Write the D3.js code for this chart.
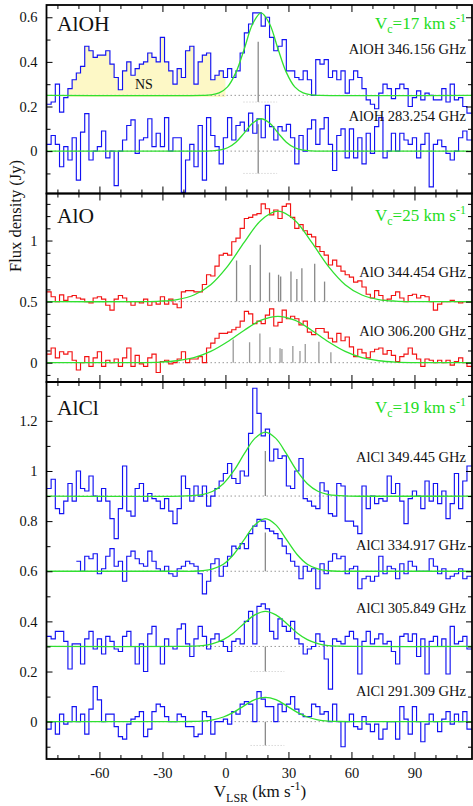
<!DOCTYPE html>
<html><head><meta charset="utf-8">
<script src="https://cdn.jsdelivr.net/npm/d3@7"></script>
<style>body{margin:0;background:#fff}svg{display:block}</style>
</head><body><svg id="c" width="473" height="806"></svg>
<script>
// ---------- data ----------
const vStart = -85, chanWidth = 2;   // channel grid (km/s)

const alOH346 = [0.21,0.22,0.30,0.175,0.24,0.28,0.32,0.35,0.38,0.47,
 0.45,0.42,0.43,0.43,0.45,0.39,0.33,0.275,0.36,0.40,
 0.34,0.37,0.39,0.40,0.44,0.42,0.40,0.51,0.40,0.36,
 0.30,0.37,0.33,0.45,0.47,0.30,0.40,0.43,0.44,0.32,
 0.34,0.36,0.33,0.37,0.33,0.36,0.44,0.53,0.57,0.62,
 0.62,0.56,0.60,0.51,0.45,0.47,0.50,0.36,0.36,0.33,
 0.32,0.36,0.32,0.25,0.41,0.39,0.41,0.33,0.36,0.32,
 0.36,0.26,0.32,0.36,0.33,0.28,0.23,0.21,0.19,0.26,
 0.30,0.28,0.235,0.28,0.30,0.28,0.20,0.24,0.27,0.23,
 0.26,0.25,0.23,0.23,0.28,0.22,0.30,0.23,0.24,0.20,0.17];

const alOH283 = [0.03,0.07,0.03,-0.07,0.02,-0.04,0.06,-0.13,0.085,0.168,
 -0.04,0.0,0.02,0.09,-0.03,0.0,-0.155,0.0,0.05,0.115,
 0.14,-0.01,0.05,0.06,0.145,0.02,0.08,0.02,0.15,0.0,
 0.06,0.06,-0.185,-0.04,0.03,-0.07,0.115,-0.13,0.15,0.07,
 0.02,-0.057,0.06,0.15,0.05,0.115,0.13,0.09,0.17,0.08,
 0.145,0.06,0.205,0.11,0.05,0.11,0.09,0.12,0.06,-0.057,
 0.07,0.0,0.10,0.14,0.03,0.10,0.15,0.03,-0.087,0.07,
 0.10,-0.03,0.10,-0.03,0.06,-0.057,0.08,-0.01,0.11,0.15,
 -0.03,0.0,0.08,0.0,0.08,0.05,0.03,0.06,-0.03,0.03,
 0.08,-0.16,0.03,0.05,0.02,-0.01,-0.04,0.0,0.06,0.09,0.05];

const alO344 = [0.58,0.54,0.50,0.555,0.51,0.54,0.55,0.53,0.52,0.50,
 0.49,0.53,0.54,0.52,0.47,0.43,0.52,0.55,0.53,0.50,
 0.47,0.50,0.49,0.52,0.47,0.50,0.48,0.54,0.48,0.52,
 0.48,0.45,0.58,0.59,0.59,0.58,0.58,0.64,0.72,0.71,
 0.79,0.88,0.895,0.88,0.99,1.02,1.10,1.18,1.19,1.21,
 1.22,1.30,1.26,1.21,1.25,1.18,1.28,1.30,1.19,1.10,
 1.13,1.08,1.05,1.03,0.95,0.91,0.88,0.80,0.84,0.79,
 0.75,0.72,0.70,0.66,0.67,0.62,0.56,0.53,0.59,0.55,
 0.51,0.52,0.55,0.58,0.53,0.50,0.55,0.56,0.53,0.55,
 0.54,0.50,0.43,0.48,0.50,0.50,0.51,0.50,0.49,0.50,0.50];

const alO306 = [0.07,0.12,0.04,0.09,0.07,0.09,0.02,-0.06,0.0,0.05,
 -0.03,0.04,0.09,-0.03,0.02,0.0,0.03,-0.03,0.04,0.12,
 -0.03,0.06,-0.01,-0.03,0.04,0.07,-0.08,0.01,0.02,-0.01,
 0.0,0.03,0.09,0.0,0.03,0.03,0.05,0.0,0.12,0.16,
 0.20,0.24,0.24,0.25,0.27,0.29,0.34,0.42,0.40,0.32,
 0.34,0.32,0.39,0.44,0.30,0.33,0.43,0.36,0.38,0.36,
 0.31,0.34,0.25,0.23,0.28,0.28,0.25,0.20,0.17,0.24,
 0.18,0.21,0.13,0.05,0.11,0.08,0.04,0.09,0.11,0.12,
 0.07,0.10,0.06,0.01,0.05,0.07,0.12,0.07,0.03,-0.03,
 0.03,0.02,0.0,0.02,0.0,0.02,-0.02,0.01,0.04,0.0,-0.03];

const alCl349 = [0.93,0.967,0.85,0.83,0.88,0.95,0.88,1.0,0.93,0.92,
 0.98,0.90,0.88,0.93,0.88,0.81,0.73,0.85,1.02,0.84,
 0.82,0.93,0.95,0.88,0.91,0.89,0.88,0.85,0.89,0.84,
 0.79,0.85,0.98,0.93,0.88,0.94,0.90,0.94,0.86,0.90,
 0.93,0.96,0.99,1.03,0.97,0.95,1.0,0.98,1.15,1.33,
 1.23,1.14,1.167,1.04,1.087,1.05,1.06,0.94,0.93,1.0,
 1.05,0.89,0.88,0.86,0.85,0.953,0.92,0.83,0.82,0.95,
 0.94,0.80,0.80,0.78,0.75,0.94,0.85,0.90,0.87,0.89,
 0.88,0.98,0.91,0.95,0.88,0.79,0.89,0.92,0.90,0.85,
 0.96,0.88,0.95,0.87,0.92,0.81,0.87,0.99,0.85,0.96,1.02];

const alCl334 = [null,null,null,null,null,null,null,0.64,0.60,0.66,
 0.65,0.67,0.59,0.61,0.66,0.69,0.62,0.64,0.56,0.66,
 0.68,0.65,0.63,0.62,0.68,0.64,0.61,0.60,0.62,0.59,
 0.58,0.61,0.62,0.64,0.63,0.62,0.59,0.51,0.56,0.63,
 0.65,0.58,0.62,0.66,0.70,0.69,0.71,0.69,0.75,0.78,
 0.807,0.80,0.77,0.76,0.75,0.73,0.70,0.67,0.64,0.62,
 0.57,0.62,0.60,0.61,0.53,0.63,0.59,0.64,0.67,0.65,
 0.66,0.59,0.61,0.62,0.53,0.57,0.58,0.56,0.58,0.66,
 0.59,0.62,0.61,0.57,0.63,0.59,0.64,0.62,0.60,0.60,
 0.60,0.65,0.62,0.59,0.61,0.57,0.58,0.59,0.61,0.57,0.58];

const alCl305 = [0.34,0.33,0.36,0.36,0.32,0.21,0.31,0.31,0.23,0.33,
 0.36,0.29,0.33,0.27,0.34,0.32,0.29,0.28,0.34,0.36,
 0.30,0.23,0.31,0.20,0.35,0.38,0.30,0.23,0.33,0.30,
 0.29,0.37,0.39,0.31,0.26,0.33,0.38,0.34,0.29,0.33,
 0.35,0.32,0.30,0.28,0.32,0.33,0.31,0.40,0.44,0.31,
 0.46,0.47,0.45,0.36,0.33,0.41,0.38,0.36,0.40,0.33,
 0.31,0.27,0.29,0.30,0.35,0.32,0.25,0.13,0.33,0.32,
 0.31,0.34,0.36,0.33,0.19,0.32,0.36,0.31,0.33,0.35,
 0.31,0.32,0.28,0.23,0.34,0.35,0.32,0.35,0.26,0.33,
 0.19,0.32,0.34,0.30,0.33,0.19,0.38,0.31,0.32,0.34,0.29];

const alCl291 = [-0.03,0.0,-0.05,0.03,-0.01,0.0,0.06,0.0,0.03,-0.05,
 0.05,0.14,0.087,0.0,0.03,0.03,-0.02,-0.06,-0.07,-0.01,
 0.01,0.02,0.04,-0.06,-0.03,0.04,0.07,0.06,0.02,0.0,
 0.0,0.03,0.02,-0.02,-0.02,-0.06,-0.05,0.04,0.02,-0.05,
 0.0,0.0,0.01,-0.01,0.04,0.03,0.07,0.08,0.07,0.0,
 0.12,0.09,0.06,0.06,0.0,0.07,0.04,0.07,0.10,0.05,
 0.03,0.02,0.02,0.07,0.06,0.03,0.04,0.0,0.07,0.0,
 -0.1,0.0,0.03,-0.02,-0.03,0.02,-0.01,-0.04,-0.01,-0.07,
 -0.03,0.0,0.0,-0.07,0.06,0.01,-0.05,0.06,0.0,-0.08,
 -0.01,0.03,0.0,-0.04,0.01,0.04,-0.01,0.03,0.0,0.04,-0.03];

// Gaussian fit curves: [v, flux]
const fitAlOH346 = [[-85.2,0.25],[-11,0.25],[-7,0.252],[-3,0.261],[1,0.288],[5,0.353],[9,0.459],[13,0.571],[17,0.62],[21,0.571],[25,0.459],[29,0.353],[33,0.288],[37,0.261],[41,0.252],[45,0.25],[117.4,0.25]];
const fitAlOH283 = [[-85.2,0],[-11,0],[-7,0.001],[-3,0.004],[1,0.015],[5,0.040],[9,0.082],[13,0.126],[17,0.145],[21,0.126],[25,0.082],[29,0.040],[33,0.015],[37,0.004],[41,0.001],[45,0],[117.4,0]];
const fitAlO344 = [[-85.2,0.5],[-39,0.5],[-31,0.504],[-23,0.517],[-15,0.554],[-7,0.639],[1,0.789],[9,0.987],[17,1.167],[25,1.24],[33,1.167],[41,0.987],[49,0.789],[57,0.639],[65,0.554],[73,0.517],[81,0.504],[89,0.5],[117.4,0.5]];
const fitAlO306 = [[-85.2,0],[-47,0],[-39,0.001],[-31,0.005],[-23,0.016],[-15,0.041],[-7,0.092],[1,0.171],[9,0.266],[17,0.348],[25,0.38],[33,0.348],[41,0.266],[49,0.171],[57,0.092],[65,0.041],[73,0.016],[81,0.005],[89,0.001],[97,0],[117.4,0]];
const fitAlCl349 = [[-85.2,0.9],[-21,0.9],[-16,0.902],[-11,0.906],[-6,0.919],[-1,0.949],[4,1.001],[9,1.069],[14,1.130],[19,1.155],[24,1.130],[29,1.069],[34,1.001],[39,0.949],[44,0.919],[49,0.906],[54,0.902],[59,0.9],[117.4,0.9]];
const fitAlCl334 = [[-85.2,0.6],[-21,0.6],[-16,0.600],[-11,0.602],[-6,0.609],[-1,0.628],[4,0.668],[9,0.727],[14,0.785],[19,0.81],[24,0.785],[29,0.727],[34,0.668],[39,0.628],[44,0.609],[49,0.602],[54,0.6],[59,0.6],[117.4,0.6]];
const fitAlCl305 = [[-85.2,0.3],[-21,0.3],[-16,0.301],[-11,0.303],[-6,0.311],[-1,0.327],[4,0.355],[9,0.393],[14,0.426],[19,0.44],[24,0.426],[29,0.393],[34,0.355],[39,0.327],[44,0.311],[49,0.303],[54,0.301],[59,0.3],[117.4,0.3]];
const fitAlCl291 = [[-85.2,0],[-21,0],[-16,0.0006],[-11,0.0024],[-6,0.0073],[-1,0.0185],[4,0.038],[9,0.064],[14,0.0875],[19,0.097],[24,0.0875],[29,0.064],[34,0.038],[39,0.0185],[44,0.0073],[49,0.0024],[54,0.0006],[59,0],[117.4,0]];

// hyperfine / line-position sticks
const hfsAlO344V = [5.3,11.8,16.6,21,25.3,26.3,31.2,34,36.4,42.5,47.2];
const hfsAlO344H = [0.336,0.30,0.465,0.238,0.22,0.205,0.246,0.186,0.274,0.309,0.164];
const hfsAlO306V = [3.7,11.5,16.4,21.2,26,26.9,32.1,35.5,38,44.5,50.2];
const hfsAlO306H = [0.19,0.167,0.24,0.126,0.118,0.112,0.137,0.096,0.153,0.172,0.085];
const stickAlOH346 = [15.6,0.22,0.49];
const stickAlOH283 = [15.6,-0.10,0.12];
const stickAlCl349 = [19,0.9,1.08];
const stickAlCl334 = [19,0.6,0.755];
const stickAlCl305 = [19,0.2,0.3];
const stickAlCl291 = [19,-0.095,0.0];

const nsRange = [-75, 0];
const xMajor = [-60,-30,0,30,60,90];
const xMajorLabels = ["-60","-30","0","30","60","90"];
const xMinor = [-80,-70,-50,-40,-20,-10,10,20,40,50,70,80,100,110];
const yTopMajor = [0,0.2,0.4,0.6], yTopLabels = ["0","0.2","0.4","0.6"], yTopMinor = [-0.1,0.1,0.3,0.5];
const yMidMajor = [0,0.5,1], yMidLabels = ["0","0.5","1"], yMidMinor = [-0.1,0.1,0.2,0.3,0.4,0.6,0.7,0.8,0.9,1.1,1.2,1.3];
const yBotMajor = [0,0.2,0.4,0.6,0.8,1,1.2], yBotLabels = ["0","0.2","0.4","0.6","0.8","1","1.2"], yBotMinor = [-0.1,0.1,0.3,0.5,0.7,0.9,1.1,1.3];

// ---------- drawing ----------
const FONT = "'Liberation Serif','Times New Roman',serif";
const BLUE = "#1212f2", RED = "#f21212", GREEN = "#30e030", GTXT = "#22dd22";
const svg = d3.select("#c");
svg.append("rect").attr("width",473).attr("height",806).attr("fill","#fff");

const X0 = 46.5, X1 = 472;
const x = d3.scaleLinear().domain([-85.2,117.4]).range([X0,X1]);

const panels = [
  {top:5, bottom:193.5, domain:[-0.19,0.655], major:yTopMajor, labels:yTopLabels, minor:yTopMinor},
  {top:193.5, bottom:382, domain:[-0.158,1.385], major:yMidMajor, labels:yMidLabels, minor:yMidMinor},
  {top:382, bottom:759, domain:[-0.149,1.355], major:yBotMajor, labels:yBotLabels, minor:yBotMinor}
];
panels.forEach((p,i)=>{
  p.y = d3.scaleLinear().domain(p.domain).range([p.bottom,p.top]);
  svg.append("clipPath").attr("id","clip"+i).append("rect")
    .attr("x",X0).attr("y",p.top).attr("width",X1-X0).attr("height",p.bottom-p.top);
  p.g = svg.append("g").attr("clip-path",`url(#clip${i})`);
});

const spectra = [
  {p:0, vals:alOH346, color:BLUE, base:0.25, fit:fitAlOH346, label:"AlOH 346.156 GHz", ly:54},
  {p:0, vals:alOH283, color:BLUE, base:0, fit:fitAlOH283, label:"AlOH 283.254 GHz", ly:120.7},
  {p:1, vals:alO344, color:RED, base:0.5, fit:fitAlO344, label:"AlO 344.454 GHz", ly:276.7},
  {p:1, vals:alO306, color:RED, base:0, fit:fitAlO306, label:"AlO 306.200 GHz", ly:335.7},
  {p:2, vals:alCl349, color:BLUE, base:0.9, fit:fitAlCl349, label:"AlCl 349.445 GHz", ly:461.7},
  {p:2, vals:alCl334, color:BLUE, base:0.6, fit:fitAlCl334, label:"AlCl 334.917 GHz", ly:550},
  {p:2, vals:alCl305, color:BLUE, base:0.3, fit:fitAlCl305, label:"AlCl 305.849 GHz", ly:613.3},
  {p:2, vals:alCl291, color:BLUE, base:0, fit:fitAlCl291, label:"AlCl 291.309 GHz", ly:695.7}
];
function pts(vals){
  const a = vals.map((d,i)=>[vStart+i*chanWidth, d]);
  a.push([x.domain()[1], vals[vals.length-1]]);
  return a;
}

// NS yellow fill (top panel)
{
  const p = panels[0];
  svg.append("clipPath").attr("id","clipNS").append("rect")
    .attr("x",x(nsRange[0])).attr("y",p.top).attr("width",x(nsRange[1])-x(nsRange[0])).attr("height",p.bottom-p.top);
  const area = d3.area().x(d=>x(d[0])).y0(p.y(0.243)).y1(d=>p.y(d[1])).curve(d3.curveStepAfter);
  p.g.append("g").attr("clip-path","url(#clipNS)").append("path")
    .attr("d",area(pts(alOH346))).attr("fill","#fdf8c6").attr("stroke","none");
}

// dotted baselines
spectra.forEach(s=>{
  const p = panels[s.p];
  p.g.append("line").attr("x1",X0).attr("x2",X1).attr("y1",p.y(s.base)).attr("y2",p.y(s.base))
    .attr("stroke","#999").attr("stroke-width",1).attr("stroke-dasharray","1.5,2.5");
});

// sticks
function stick(p, v, a, b, col){
  p.g.append("line").attr("x1",x(v)).attr("x2",x(v)).attr("y1",p.y(a)).attr("y2",p.y(b))
    .attr("stroke",col||"#8a8a8a").attr("stroke-width",1.3);
}
function faint(p, v, a){
  p.g.append("line").attr("x1",x(v-7)).attr("x2",x(v+9)).attr("y1",p.y(a)).attr("y2",p.y(a))
    .attr("stroke","#c4c4c4").attr("stroke-width",1).attr("stroke-dasharray","1,2");
}
[[0,stickAlOH346],[0,stickAlOH283],[2,stickAlCl349],[2,stickAlCl334],[2,stickAlCl305],[2,stickAlCl291]].forEach(([pi,s])=>{
  stick(panels[pi], s[0], s[1], s[2]);
});
faint(panels[0], stickAlOH346[0], stickAlOH346[1]);
faint(panels[0], stickAlOH283[0], stickAlOH283[1]);
faint(panels[2], stickAlCl305[0], stickAlCl305[1]);
faint(panels[2], stickAlCl291[0], stickAlCl291[1]);
hfsAlO344V.forEach((v,i)=>stick(panels[1], v, 0.5, 0.5+hfsAlO344H[i], "#888"));
hfsAlO306V.forEach((v,i)=>stick(panels[1], v, 0, hfsAlO306H[i], "#999"));

// spectra and fits
spectra.forEach(s=>{
  const p = panels[s.p];
  const line = d3.line().defined(d=>d[1]!=null).x(d=>x(d[0])).y(d=>p.y(d[1])).curve(d3.curveStepAfter);
  p.g.append("path").attr("d",line(pts(s.vals))).attr("fill","none")
    .attr("stroke",s.color).attr("stroke-width",1.15).attr("stroke-linejoin","miter");
});
spectra.forEach(s=>{
  const p = panels[s.p];
  const fl = d3.line().x(d=>x(d[0])).y(d=>p.y(d[1])).curve(d3.curveCatmullRom);
  p.g.append("path").attr("d",fl(s.fit)).attr("fill","none")
    .attr("stroke",GREEN).attr("stroke-width",1.3);
});

// axes
panels.forEach((p,i)=>{
  const last = i===panels.length-1;
  const styleAx = g=>{ g.select(".domain").remove(); g.selectAll("line").attr("stroke","#000").attr("stroke-width",1);
    g.selectAll("text").attr("font-family",FONT).attr("font-size","14.5px").attr("fill","#111"); };
  svg.append("g").attr("transform",`translate(${X0},0)`)
    .call(d3.axisLeft(p.y).tickValues(p.major).tickSize(-6).tickPadding(9).tickFormat((d,k)=>p.labels[k])).call(styleAx);
  svg.append("g").attr("transform",`translate(${X0},0)`)
    .call(d3.axisLeft(p.y).tickValues(p.minor).tickSize(-4).tickFormat("")).call(styleAx);
  svg.append("g").attr("transform",`translate(${X1},0)`)
    .call(d3.axisRight(p.y).tickValues(p.major).tickSize(-6).tickFormat("")).call(styleAx);
  svg.append("g").attr("transform",`translate(${X1},0)`)
    .call(d3.axisRight(p.y).tickValues(p.minor).tickSize(-4).tickFormat("")).call(styleAx);
  svg.append("g").attr("transform",`translate(0,${p.bottom})`)
    .call(d3.axisBottom(x).tickValues(xMajor).tickSize(-7).tickPadding(9).tickFormat((d,k)=> last ? xMajorLabels[k] : "")).call(styleAx);
  svg.append("g").attr("transform",`translate(0,${p.bottom})`)
    .call(d3.axisBottom(x).tickValues(xMinor).tickSize(-4).tickFormat("")).call(styleAx);
  svg.append("g").attr("transform",`translate(0,${p.top})`)
    .call(d3.axisTop(x).tickValues(xMajor).tickSize(-7).tickFormat("")).call(styleAx);
  svg.append("g").attr("transform",`translate(0,${p.top})`)
    .call(d3.axisTop(x).tickValues(xMinor).tickSize(-4).tickFormat("")).call(styleAx);
  svg.append("rect").attr("x",X0).attr("y",p.top).attr("width",X1-X0).attr("height",p.bottom-p.top)
    .attr("fill","none").attr("stroke","#000").attr("stroke-width",1.8);
});

// texts
function txt(xx,yy,s,size,anchor,col){
  return svg.append("text").attr("x",xx).attr("y",yy).attr("font-family",FONT)
    .attr("font-size",size+"px").attr("text-anchor",anchor||"start").attr("fill",col||"#111").text(s);
}
txt(57,30.5,"AlOH",21.5);
txt(57,223,"AlO",21.5);
txt(57,415,"AlCl",21.5);
txt(135,88.5,"NS",14);
spectra.forEach(s=>txt(466,s.ly,s.label,14.5,"end"));

function vc(yy, val){
  const t = svg.append("text").attr("x",466).attr("y",yy).attr("font-family",FONT)
    .attr("font-size","17px").attr("text-anchor","end").attr("fill",GTXT);
  t.append("tspan").text("V");
  t.append("tspan").attr("dy",4).attr("font-size","12px").text("c");
  t.append("tspan").attr("dy",-4).text("="+val+" km s");
  t.append("tspan").attr("dy",-7).attr("font-size","12px").text("-1");
}
vc(28.5,17); vc(221,25); vc(413,19);

// axis titles
{
  const t = svg.append("text").attr("x",260).attr("y",797).attr("font-family",FONT)
    .attr("font-size","17px").attr("text-anchor","middle").attr("fill","#111");
  t.append("tspan").text("V");
  t.append("tspan").attr("dy",5).attr("font-size","12px").text("LSR");
  t.append("tspan").attr("dy",-5).text(" (km s");
  t.append("tspan").attr("dy",-7).attr("font-size","12px").text("-1");
  t.append("tspan").attr("dy",7).text(")");
  svg.append("text").attr("transform","translate(21,216) rotate(-90)").attr("font-family",FONT)
    .attr("font-size","16.5px").attr("text-anchor","middle").attr("fill","#111").text("Flux density (Jy)");
}
</script></body></html>
